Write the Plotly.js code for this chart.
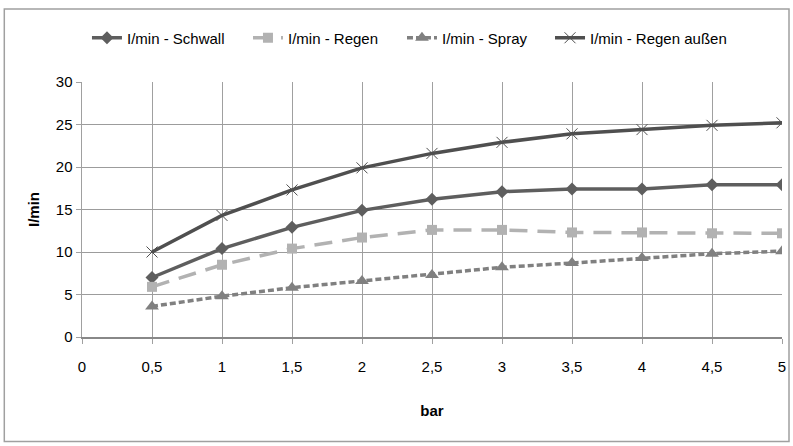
<!DOCTYPE html>
<html>
<head>
<meta charset="utf-8">
<script src="https://cdn.plot.ly/plotly-3.0.1.min.js"></script>
<style>html,body{margin:0;padding:0;background:#fff;}#chart{width:793px;height:446px;}</style>
</head>
<body>
<div id="chart"></div>
<script>
const pressure = [0.5, 1, 1.5, 2, 2.5, 3, 3.5, 4, 4.5, 5];
const schwall = [7.0, 10.4, 12.9, 14.9, 16.2, 17.1, 17.4, 17.4, 17.9, 17.9];
const regen = [5.9, 8.5, 10.4, 11.7, 12.6, 12.6, 12.3, 12.3, 12.2, 12.2];
const spray = [3.6, 4.8, 5.8, 6.6, 7.3, 8.2, 8.7, 9.3, 9.8, 10.1];
const regenAussen = [10.0, 14.3, 17.3, 19.9, 21.6, 22.9, 23.9, 24.4, 24.9, 25.2];
const seriesNames = ["I/min - Schwall", "I/min - Regen", "I/min - Spray", "I/min - Regen außen"];
const xTickVals = [0, 0.5, 1, 1.5, 2, 2.5, 3, 3.5, 4, 4.5, 5];
const xTickText = ["0", "0,5", "1", "1,5", "2", "2,5", "3", "3,5", "4", "4,5", "5"];
const yTickVals = [0, 5, 10, 15, 20, 25, 30];
const yTickText = ["0", "5", "10", "15", "20", "25", "30"];
const xTitle = "bar";
const yTitle = "I/min";

const FONT = '"Liberation Sans", Arial, sans-serif';

const traces = [
  {x: pressure, y: schwall, name: seriesNames[0], mode: 'lines+markers', legend: 'legend',
   line: {color: '#5e5e5e', width: 3.5},
   marker: {symbol: 'diamond', size: 10, color: '#5e5e5e'}},
  {x: pressure, y: regen, name: seriesNames[1], mode: 'lines+markers', legend: 'legend2',
   line: {color: '#b2b2b2', width: 3.5, dash: '18px,10px'},
   marker: {symbol: 'square', size: 10, color: '#b2b2b2'}},
  {x: pressure, y: spray, name: seriesNames[2], mode: 'lines+markers', legend: 'legend3',
   line: {color: '#808080', width: 3.5, dash: '6px,3px'},
   marker: {symbol: 'triangle-up', size: 12, color: '#808080'}},
  {x: pressure, y: regenAussen, name: seriesNames[3], mode: 'lines+markers', legend: 'legend4',
   line: {color: '#4f4f4f', width: 3.5},
   marker: {symbol: 'x-thin', size: 11, color: '#4f4f4f', line: {color: '#4f4f4f', width: 1}}}
];

function leg(xp) {
  return {orientation: 'h', x: xp, xanchor: 'left', y: 1.1725, yanchor: 'middle',
          font: {family: FONT, size: 15, color: '#000'}, itemwidth: 30,
          bgcolor: 'rgba(0,0,0,0)', borderwidth: 0};
}

const layout = {
  width: 793, height: 446,
  margin: {l: 82, r: 11, t: 82, b: 109, autoexpand: false},
  paper_bgcolor: '#ffffff', plot_bgcolor: '#ffffff',
  font: {family: FONT, size: 15, color: '#000000'},
  showlegend: true,
  legend: leg(0.0071),
  legend2: leg(0.2371),
  legend3: leg(0.4571),
  legend4: leg(0.6686),
  xaxis: {
    range: [0, 5], tickvals: xTickVals, ticktext: xTickText,
    showgrid: true, gridcolor: '#a0a0a0', gridwidth: 1,
    zeroline: false, showline: true, linecolor: '#888888', linewidth: 2,
    ticks: 'outside', ticklen: 5, tickcolor: '#a0a0a0', ticklabelstandoff: 10,
    tickfont: {family: FONT, size: 15, color: '#000'},
    title: {text: '<b>' + xTitle + '</b>', font: {family: FONT, size: 15, color: '#000'}, standoff: 31},
    fixedrange: true
  },
  yaxis: {
    range: [0, 30], tickvals: yTickVals, ticktext: yTickText,
    showgrid: true, gridcolor: '#9c9c9c', gridwidth: 1,
    zeroline: false, showline: true, linecolor: '#a0a0a0', linewidth: 1.5,
    ticks: 'outside', ticklen: 5, tickcolor: '#a0a0a0',
    tickfont: {family: FONT, size: 15, color: '#000'},
    title: {text: '<b>' + yTitle + '</b>', font: {family: FONT, size: 15, color: '#000'}, standoff: 12},
    fixedrange: true
  },
  shapes: [
    {type: 'rect', xref: 'paper', yref: 'paper', x0: -0.111, x1: 1.01, y0: -0.41, y1: 1.286,
     line: {color: '#a0a0a0', width: 1.5}, fillcolor: 'rgba(0,0,0,0)', layer: 'below'}
  ]
};

Plotly.newPlot('chart', traces, layout, {displayModeBar: false, staticPlot: true});
</script>
</body>
</html>
